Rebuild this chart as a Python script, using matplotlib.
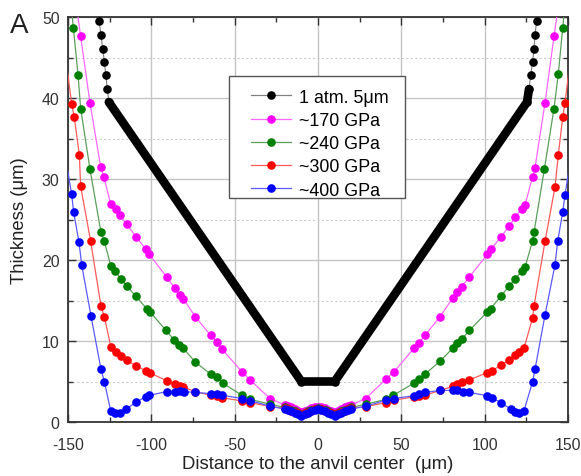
import matplotlib
matplotlib.use("Agg")
import matplotlib.pyplot as plt
from matplotlib.lines import Line2D
from matplotlib.patches import Rectangle

plt.rcParams['font.family'] = ['Liberation Sans', 'DejaVu Sans']
plt.rcParams['axes.unicode_minus'] = False

# ---------------- data ----------------
labels = ["1 atm. 5\u03bcm", "~170 GPa", "~240 GPa", "~300 GPa", "~400 GPa"]

# 1 atm (5 um)
blk_x = [-132.2, -131.4, -130.2, -129.2, -128.2, -127.3, -126.4, -125.5,
         -10.0, 10.0,
         125.4, 126.6, 127.6, 128.8, 129.6, 130.2, 131.2, 132.0]
blk_y = [51.2, 49.5, 47.8, 46.1, 44.5, 42.8, 41.1, 39.5,
         5.0, 5.0,
         39.5, 41.1, 42.8, 44.5, 46.1, 47.8, 49.5, 51.2]
blk_band_start = 7
blk_band_end = 11

# common centre positions
xc = [-20, -18, -16, -14, -12, -10, -8, -6, -4, -2, 0, 2, 4, 6, 8, 10, 12, 14, 16, 18, 20]

# ~170 GPa
mag_xl = [-147.8, -142.4, -136.8, -130.4, -128.4, -124.4, -121.2, -118.8, -114.8, -109.2,
          -103.2, -101.2, -90.8, -86.0, -82.8, -80.8, -73.6, -64.4, -60.8, -57.6,
          -45.6, -40.8, -28.8]
mag_yl = [55.5, 47.6, 39.4, 31.5, 30.2, 26.9, 26.3, 25.5, 24.4, 22.9,
          21.3, 20.7, 17.9, 16.5, 15.7, 15.2, 13.0, 10.7, 9.9, 9.0,
          6.2, 5.2, 2.9]
mag_yc = [2.1, 1.95, 1.8, 1.6, 1.4, 1.25, 1.35, 1.5, 1.7, 1.85, 1.9,
          1.85, 1.7, 1.5, 1.35, 1.25, 1.4, 1.6, 1.8, 1.95, 2.1]
mag_xr = [28.6, 40.8, 45.6, 57.6, 60.8, 64.2, 73.2, 80.8, 83.6, 86.2,
          90.8, 101.6, 103.6, 109.6, 114.8, 118.4, 122.2, 124.2, 128.8, 130.2,
          136.2, 141.6, 147.0]
mag_yr = [2.9, 5.3, 6.2, 9.1, 9.8, 10.7, 13.0, 15.3, 16.0, 16.7,
          17.9, 20.7, 21.3, 22.8, 24.2, 25.3, 26.3, 26.8, 30.3, 31.4,
          39.4, 47.6, 55.5]

# ~240 GPa
grn_xl = [-149.8, -146.8, -144.0, -142.4, -136.8, -130.2, -128.2, -124.2, -121.8, -118.4,
          -114.8, -109.2, -102.8, -100.8, -91.2, -86.2, -83.2, -80.8, -73.6, -64.4,
          -60.8, -57.2, -45.6, -40.8, -28.8]
grn_yl = [55.0, 48.7, 42.9, 38.7, 31.2, 23.4, 22.3, 19.2, 18.7, 17.7,
          16.8, 15.5, 14.0, 13.6, 11.3, 10.1, 9.5, 9.1, 7.4, 5.9,
          5.5, 4.8, 3.3, 2.8, 2.2]
grn_yc = [1.8, 1.65, 1.5, 1.35, 1.15, 1.0, 1.15, 1.3, 1.5, 1.65, 1.75,
          1.65, 1.5, 1.3, 1.15, 1.0, 1.15, 1.35, 1.5, 1.65, 1.8]
grn_xr = [28.8, 40.8, 45.2, 57.6, 60.8, 64.2, 73.2, 80.8, 83.6, 86.2,
          90.8, 101.6, 103.6, 109.6, 114.8, 118.4, 122.2, 124.2, 128.8, 129.6,
          135.8, 141.6, 144.2, 146.8, 149.8]
grn_yr = [2.2, 2.8, 3.3, 4.8, 5.3, 5.9, 7.5, 9.1, 9.8, 10.2,
          11.3, 13.6, 14.0, 15.5, 16.8, 17.7, 18.6, 19.1, 22.4, 23.4,
          31.2, 38.7, 43.0, 48.6, 55.0]

# ~300 GPa
red_xl = [-153.0, -147.8, -146.2, -143.2, -142.4, -136.4, -130.2, -128.2, -124.2, -121.2,
          -118.4, -114.8, -109.2, -103.2, -100.8, -90.8, -85.8, -82.8, -80.8, -73.6,
          -64.4, -60.8, -57.6, -45.6, -40.8, -28.8]
red_yl = [47.5, 39.3, 37.6, 33.0, 29.1, 22.3, 14.3, 13.0, 9.2, 8.6,
          8.1, 7.6, 6.95, 6.3, 6.05, 5.1, 4.7, 4.5, 4.3, 3.75,
          3.3, 3.2, 3.0, 2.6, 2.4, 1.9]
red_yc = [1.7, 1.55, 1.4, 1.25, 1.05, 0.9, 1.05, 1.2, 1.4, 1.55, 1.65,
          1.55, 1.4, 1.2, 1.05, 0.9, 1.05, 1.25, 1.4, 1.55, 1.7]
red_xr = [28.8, 40.8, 45.6, 57.6, 60.8, 64.2, 73.2, 80.8, 83.6, 86.2,
          90.8, 101.6, 104.2, 109.6, 114.8, 118.4, 120.8, 123.6, 128.8, 129.6,
          136.2, 142.2, 144.2, 146.8, 148.2, 153.0]
red_yr = [1.9, 2.4, 2.7, 3.1, 3.2, 3.3, 3.9, 4.4, 4.7, 4.9,
          5.2, 6.1, 6.3, 7.0, 7.7, 8.3, 8.6, 9.1, 12.9, 14.3,
          22.3, 29.0, 33.0, 37.6, 39.4, 47.5]

# ~400 GPa
blu_xl = [-153.0, -147.8, -146.6, -143.4, -141.8, -136.2, -130.2, -128.2, -124.4, -121.8,
          -118.8, -115.3, -109.2, -103.5, -101.2, -90.8, -85.8, -82.8, -80.4, -73.6,
          -64.4, -60.8, -57.6, -45.4, -40.8, -28.8]
blu_yl = [34.5, 28.1, 25.9, 22.2, 19.4, 13.1, 6.5, 5.0, 1.4, 1.15,
          1.15, 1.55, 2.45, 3.1, 3.3, 3.75, 3.75, 3.8, 3.75, 3.65,
          3.5, 3.45, 3.3, 2.9, 2.65, 1.95]
blu_yc = [1.6, 1.45, 1.3, 1.15, 0.95, 0.8, 0.95, 1.1, 1.3, 1.45, 1.55,
          1.45, 1.3, 1.1, 0.95, 0.8, 0.95, 1.15, 1.3, 1.45, 1.6]
blu_xr = [28.8, 40.8, 45.6, 57.6, 60.8, 64.2, 73.2, 80.8, 83.6, 86.8,
          90.8, 101.6, 104.2, 109.6, 115.6, 118.2, 120.8, 123.6, 128.8, 130.2,
          136.2, 142.2, 143.8, 146.8, 148.2, 153.0]
blu_yr = [1.95, 2.7, 2.9, 3.25, 3.45, 3.65, 3.9, 3.9, 3.9, 3.75,
          3.65, 3.25, 3.0, 2.4, 1.6, 1.2, 1.1, 1.4, 5.0, 6.5,
          13.2, 19.4, 22.3, 25.9, 28.0, 34.5]

x_ticks = [-150, -100, -50, 0, 50, 100, 150]
y_ticks = [0, 10, 20, 30, 40, 50]

# ---------------- styles ----------------
marker_colors = ["#000000", "#ff00ff", "#008000", "#ff0000", "#0000ff"]
line_colors = ["#808080", "#ff66ff", "#5aa05a", "#ff5a5a", "#5a5aff"]
ms = 6.2

fig = plt.figure(figsize=(5.81, 4.77), dpi=100)
ax = fig.add_axes([68 / 581, 54 / 477, 500 / 581, 405 / 477])

series = [
    (mag_xl + xc + mag_xr, mag_yl + mag_yc + mag_yr),
    (grn_xl + xc + grn_xr, grn_yl + grn_yc + grn_yr),
    (red_xl + xc + red_xr, red_yl + red_yc + red_yr),
    (blu_xl + xc + blu_xr, blu_yl + blu_yc + blu_yr),
]

# black series: dots + thick band of overlapping dots
ax.plot(blk_x, blk_y, color=line_colors[0], lw=0.8, marker="o", ms=ms,
        mfc="black", mec="black", mew=0, zorder=3)
ax.plot(blk_x[blk_band_start:blk_band_end + 1], blk_y[blk_band_start:blk_band_end + 1],
        color="black", lw=6.2, solid_joinstyle="round", solid_capstyle="round", zorder=3.5)

for i, (sx, sy) in enumerate(series, start=1):
    ax.plot(sx, sy, color=line_colors[i], lw=0.9, marker="o", ms=ms,
            mfc=marker_colors[i], mec=marker_colors[i], mew=0, zorder=3 + i)

ax.set_xlim(-150, 150)
ax.set_ylim(0, 50)
ax.set_xticks(x_ticks)
ax.set_yticks(y_ticks)
ax.set_xticks([-125, -75, -25, 25, 75, 125], minor=True)
ax.set_yticks([5, 15, 25, 35, 45], minor=True)

ax.grid(which="major", color="#c4c4c4", lw=1.0, ls="-", zorder=0)
ax.grid(which="minor", axis="y", color="#cccccc", lw=0.8, ls=(0, (2, 2)), zorder=0)
ax.set_axisbelow(True)

ax.tick_params(which="both", direction="in", top=True, right=True, color="#333333")
ax.tick_params(which="major", length=6, width=1.0, labelsize=11.4, colors="#333333")
ax.tick_params(which="minor", length=3.5, width=1.0)
ax.tick_params(axis="x", which="major", pad=11)
ax.tick_params(axis="y", which="major", pad=6)
for sp in ax.spines.values():
    sp.set_linewidth(1.3)
    sp.set_color("#333333")

ax.set_xlabel("Distance to the anvil center  (\u03bcm)", fontsize=13.3, color="#222222", labelpad=2)
ax.set_ylabel("Thickness (\u03bcm)", fontsize=13.3, color="#222222", labelpad=10)

fig.text(10 / 581, 1 - 26 / 477, "A", fontsize=20, va="center", ha="left", color="#222222")

# legend frame (drawn separately to match its padding)
frame = Rectangle((0.322, 0.553), 0.674 - 0.322, 0.854 - 0.553, transform=ax.transAxes,
                  facecolor="white", edgecolor="#555555", lw=1.0, zorder=9)
ax.add_patch(frame)

handles = [Line2D([], [], color=line_colors[i], lw=0.9, marker="o", ms=ms,
                  mfc=marker_colors[i], mec=marker_colors[i], mew=0) for i in range(5)]
leg = ax.legend(handles, labels, loc="upper left", bbox_to_anchor=(0.366, 0.823),
                fontsize=12.9, frameon=False, handlelength=2.23,
                labelspacing=0.35, borderpad=0, handletextpad=0.45, borderaxespad=0)
leg.set_zorder(10)

fig.savefig("out.png", dpi=100)
